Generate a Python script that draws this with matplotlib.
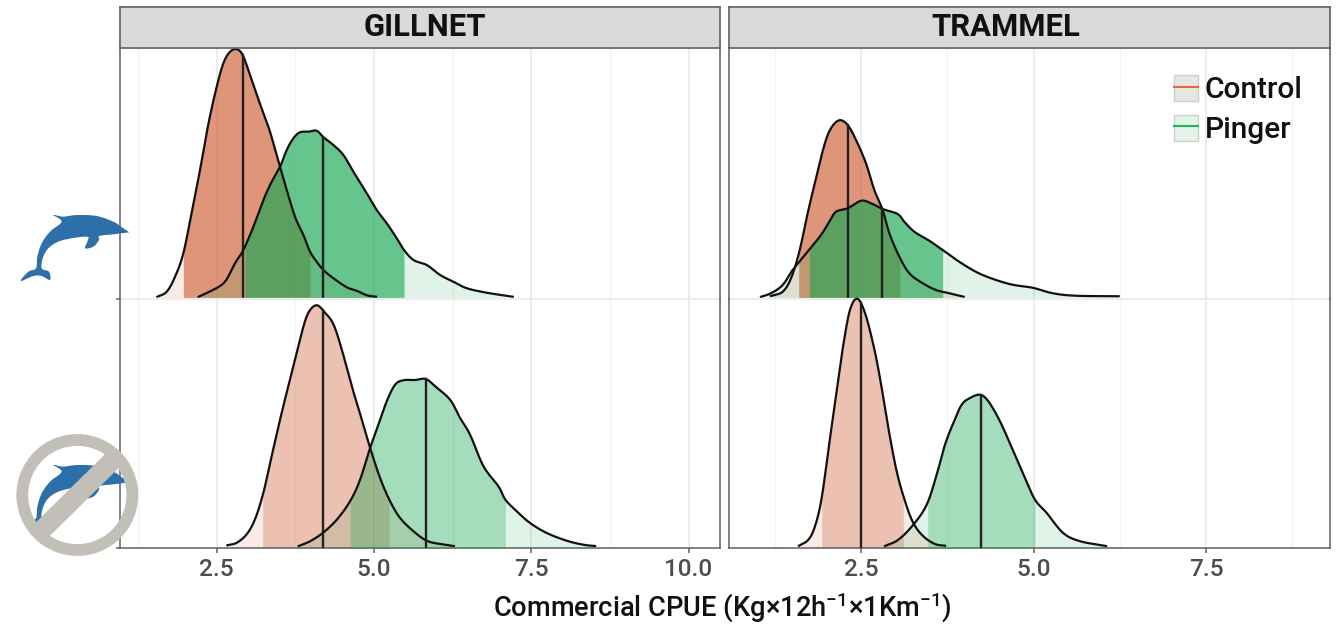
import numpy as np
import matplotlib
matplotlib.use("Agg")
import matplotlib.pyplot as plt
from matplotlib.patches import Polygon, Circle, Patch
from matplotlib.lines import Line2D
from matplotlib.legend_handler import HandlerTuple

FONT = "Roboto"
plt.rcParams["font.family"] = [FONT, "DejaVu Sans"]
plt.rcParams["mathtext.default"] = "regular"

W, H = 1342, 628
panels = ["GILLNET", "TRAMMEL"]
groups = ["Control", "Pinger"]
x_major = [[2.5, 5.0, 7.5, 10.0], [2.5, 5.0, 7.5]]
x_minor = [[1.25, 3.75, 6.25, 8.75], [1.25, 3.75, 6.25, 8.75]]
xlims = [(0.963, 10.5), (0.587, 9.297)]

# GILLNET, dolphins present
gd_c_x = [1.557,1.705,1.838,1.97,2.10,2.235,2.37,2.5,2.606,2.712,2.818,2.913,3.03,3.189,3.321,3.427,3.507,3.613,3.745,3.878,3.984,4.09,4.196,4.355,4.567,4.726,4.885,5.033]
gd_c_y = [.009,.029,.089,.183,.343,.516,.703,.849,.943,.989,.999,.976,.896,.78,.69,.60,.529,.436,.329,.256,.189,.149,.116,.083,.047,.033,.015,.009]
gd_c_q = [1.97, 2.913, 3.984]
gd_p_x = [2.214,2.368,2.553,2.659,2.791,2.924,3.083,3.242,3.374,3.507,3.613,3.719,3.825,3.957,4.09,4.196,4.355,4.514,4.673,4.885,5.044,5.203,5.362,5.478,5.627,5.839,6.051,6.263,6.475,6.793,7.206]
gd_p_y = [.009,.027,.052,.079,.143,.196,.289,.396,.469,.529,.596,.643,.667,.669,.673,.647,.616,.576,.509,.423,.356,.303,.243,.196,.156,.136,.096,.069,.043,.025,.009]
gd_p_q = [2.95, 4.196, 5.478]

# GILLNET, dolphins absent
gn_c_x = [2.67,2.818,2.977,3.109,3.242,3.374,3.533,3.719,3.851,3.957,4.09,4.222,4.355,4.487,4.646,4.805,4.938,5.097,5.256,5.415,5.627,5.839,6.05,6.27]
gn_c_y = [.011,.021,.055,.115,.221,.368,.541,.728,.861,.941,.971,.941,.895,.795,.648,.515,.401,.28,.187,.12,.067,.029,.016,.008]
gn_c_q = [3.231, 4.185, 5.24]
gn_p_x = [3.804,3.984,4.185,4.408,4.62,4.779,4.938,5.07,5.203,5.335,5.468,5.653,5.823,5.971,6.21,6.369,6.528,6.74,6.978,7.089,7.269,7.481,7.746,8.064,8.329,8.515]
gn_p_y = [.008,.027,.06,.113,.187,.273,.4,.493,.587,.653,.671,.672,.676,.647,.593,.52,.453,.327,.247,.193,.147,.1,.06,.029,.013,.008]
gn_p_q = [4.62, 5.823, 7.089]

# TRAMMEL, dolphins present
td_c_x = [1.196,1.365,1.486,1.606,1.727,1.848,1.969,2.065,2.186,2.307,2.428,2.572,2.693,2.814,2.911,3.056,3.2,3.394,3.587,3.78,3.988]
td_c_y = [.012,.029,.083,.189,.343,.483,.616,.683,.715,.696,.636,.543,.436,.356,.263,.169,.103,.063,.036,.023,.009]
td_c_q = [1.597, 2.307, 3.065]
td_p_x = [1.051,1.196,1.365,1.51,1.727,1.92,2.041,2.138,2.307,2.5,2.645,2.814,3.031,3.128,3.273,3.49,3.684,3.973,4.263,4.65,4.988,5.278,5.616,6.234]
td_p_y = [.009,.023,.056,.116,.189,.256,.309,.349,.363,.393,.383,.36,.34,.309,.269,.233,.196,.14,.096,.06,.045,.023,.013,.011]
td_p_q = [1.751, 2.8, 3.684]

# TRAMMEL, dolphins absent
tn_c_x = [1.601,1.737,1.833,1.93,2.051,2.147,2.244,2.341,2.447,2.558,2.679,2.775,2.896,3.017,3.138,3.258,3.403,3.572,3.717]
tn_c_y = [.009,.033,.087,.2,.44,.627,.813,.953,.997,.94,.813,.68,.48,.307,.187,.1,.047,.016,.009]
tn_c_q = [1.93, 2.5, 3.114]
tn_p_x = [2.848,3.041,3.258,3.452,3.597,3.717,3.838,3.959,4.08,4.225,4.345,4.514,4.708,4.877,5.022,5.192,5.43,5.676,6.051]
tn_p_y = [.008,.033,.093,.173,.293,.413,.5,.573,.6,.613,.587,.507,.387,.28,.193,.14,.06,.027,.008]
tn_p_q = [3.466, 4.234, 5.022]

series = {
    (0, 0): [(gd_c_x, gd_c_y, gd_c_q), (gd_p_x, gd_p_y, gd_p_q)],
    (1, 0): [(gn_c_x, gn_c_y, gn_c_q), (gn_p_x, gn_p_y, gn_p_q)],
    (0, 1): [(td_c_x, td_c_y, td_c_q), (td_p_x, td_p_y, td_p_q)],
    (1, 1): [(tn_c_x, tn_c_y, tn_c_q), (tn_p_x, tn_p_y, tn_p_q)],
}

COL = ["#CF5D32", "#14A650"]
INNER = {0: 0.65, 1: 0.38}
OUTER = 0.13

DOLPHIN = np.array([(388,97),(360,78),(340,65),(290,48),(230,45),(190,50),(160,45),(185,65),(150,95),(125,130),(112,170),(108,205),
                    (85,215),(62,243),(100,228),(125,228),(150,240),(147,215),(125,205),(130,170),(150,140),(190,120),(260,110),
                    (262,125),(255,145),(280,140),(297,120),(298,108),(340,103),(388,97)], float) / 3


def fx(px):
    return px / W


def fy(py):
    return 1 - py / H


def smooth(xs, ys, n=10):
    """Catmull-Rom rendering of the read points; the curve passes through each of them."""
    p = np.column_stack([xs, ys]).astype(float)
    q = np.vstack([2 * p[0] - p[1], p, 2 * p[-1] - p[-2]])
    out = []
    t = np.linspace(0, 1, n, endpoint=False)[:, None]
    for i in range(1, len(q) - 2):
        a, b, c, d = q[i - 1], q[i], q[i + 1], q[i + 2]
        out.append(0.5 * (2 * b + (c - a) * t + (2 * a - 5 * b + 4 * c - d) * t ** 2 + (3 * b - a - 3 * c + d) * t ** 3))
    out.append(p[-1:])
    r = np.vstack(out)
    return r[:, 0], r[:, 1]


fig = plt.figure(figsize=(W / 100, H / 100), dpi=100, facecolor="white")
col_px = [(120, 720), (729, 1330)]
row_px = [(48, 299), (299, 548)]
title_px = [425, 1006]
GREY = "#5F5F5F"

for (r, c), items in series.items():
    x0, x1 = col_px[c]
    top, bot = row_px[r]
    ax = fig.add_axes([fx(x0), fy(bot), (x1 - x0) / W, (bot - top) / H])
    ax.set_xlim(*xlims[c])
    ax.set_ylim(0, (bot - top) / 250)
    ax.set_facecolor("none")
    for v in x_minor[c]:
        ax.axvline(v, color="#F3F3F3", lw=1, zorder=0)
    for v in x_major[c]:
        ax.axvline(v, color="#EBEBEB", lw=1.3, zorder=0)
    for k, (xs, ys, q) in enumerate(items):
        sx, sy = smooth(xs, ys)
        lo, med, hi = q
        for a, b, alpha in [(sx[0], lo, OUTER), (lo, hi, INNER[r]), (hi, sx[-1], OUTER)]:
            inside = sx[(sx > a) & (sx < b)]
            gx = np.concatenate([[a], inside, [b]])
            gy = np.interp(gx, sx, sy)
            ax.fill_between(gx, 0, gy, color=COL[k], alpha=alpha, lw=0, zorder=2 + k)
    for k, (xs, ys, q) in enumerate(items):
        sx, sy = smooth(xs, ys)
        ax.plot(sx, sy, color="#111111", lw=1.6, zorder=5, clip_on=False, solid_joinstyle="round")
        ax.plot([q[1], q[1]], [0, np.interp(q[1], sx, sy)], color="#222222", lw=1.7, zorder=5)
    ax.set_yticks([0])
    ax.set_yticklabels([])
    for s in ax.spines.values():
        s.set_color(GREY)
        s.set_linewidth(1.1)
    ax.spines["top"].set_visible(False)
    ax.spines["bottom"].set_visible(r == 1)
    ax.spines["left"].set_zorder(6)
    ax.spines["right"].set_zorder(6)
    ax.tick_params(axis="y", length=3, color=GREY, width=1.1, left=(c == 0))
    if r == 0:
        ax.set_xticks([])
        ax.axhline(0, color="#EDEDED", lw=1.6, zorder=6, clip_on=False)
    else:
        ax.set_xticks(x_major[c])
        ax.set_xticklabels([f"{v:.1f}" for v in x_major[c]], fontweight="medium")
        ax.tick_params(axis="x", length=3.5, width=1.1, color=GREY, labelcolor="#4D4D4D", labelsize=17.5, pad=3.5)
    if r == 0:
        sa = fig.add_axes([fx(x0), fy(48), (x1 - x0) / W, 41 / H])
        sa.set_facecolor("#D9D9D9")
        sa.set_xticks([])
        sa.set_yticks([])
        for s in sa.spines.values():
            s.set_color(GREY)
            s.set_linewidth(1.2)
        fig.text(fx(title_px[c]), fy(27.5), panels[c], ha="center", va="center",
                 fontsize=22.3, fontweight="bold", color="#111111", zorder=10)
    if r == 0 and c == 1:
        handles = [
            (Patch(facecolor="#E8E6E3", edgecolor="#CFCFCF"), Line2D([], [], color="#E0693F", lw=1.5)),
            (Patch(facecolor="#E3F4E9", edgecolor="#CFCFCF"), Line2D([], [], color="#1DB954", lw=1.5)),
        ]
        ax.legend(handles, groups, handler_map={tuple: HandlerTuple(ndivide=1, pad=0)},
                  loc="upper left", bbox_to_anchor=(fx(1165), fy(66)), bbox_transform=fig.transFigure,
                  frameon=False, prop={"size": 21.5, "weight": "medium"}, handlelength=0.8, handleheight=0.95,
                  handletextpad=0.22, labelspacing=0.36, borderpad=0.3, borderaxespad=0, labelcolor="#111111")

fig.text(fx(722.5), fy(608), "Commercial CPUE (Kg×12h$^{-1}$×1Km$^{-1}$)", ha="center", va="center",
         fontsize=19.6, fontweight="medium", color="#111111")

# Pixel-placed pictograms
px_tf = matplotlib.transforms.Affine2D().scale(1, -1).translate(0, H)
BLUE = "#2D6FA8"
RING = "#C1BFB7"
dx, dy = smooth(DOLPHIN[:, 0], DOLPHIN[:, 1], n=6)
outline = np.column_stack([dx, dy])
d1 = Polygon(outline + [0, 200], closed=True, facecolor=BLUE, edgecolor="none", transform=px_tf, zorder=20)
fig.add_artist(d1)
d2 = Polygon(outline + [0, 450], closed=True, facecolor=BLUE, edgecolor="none", transform=px_tf, zorder=20)
fig.add_artist(d2)
clip = Circle((77.3, 495), 56, transform=px_tf)
d2.set_clip_path(clip)
fig.add_artist(Circle((77.3, 495), 55, facecolor="none", edgecolor=RING, lw=8.5, transform=px_tf, zorder=21))
fig.add_artist(Line2D([113, 40], [460, 532], color=RING, lw=14, solid_capstyle="butt", transform=px_tf, zorder=21))

fig.savefig("out.png", dpi=100)
